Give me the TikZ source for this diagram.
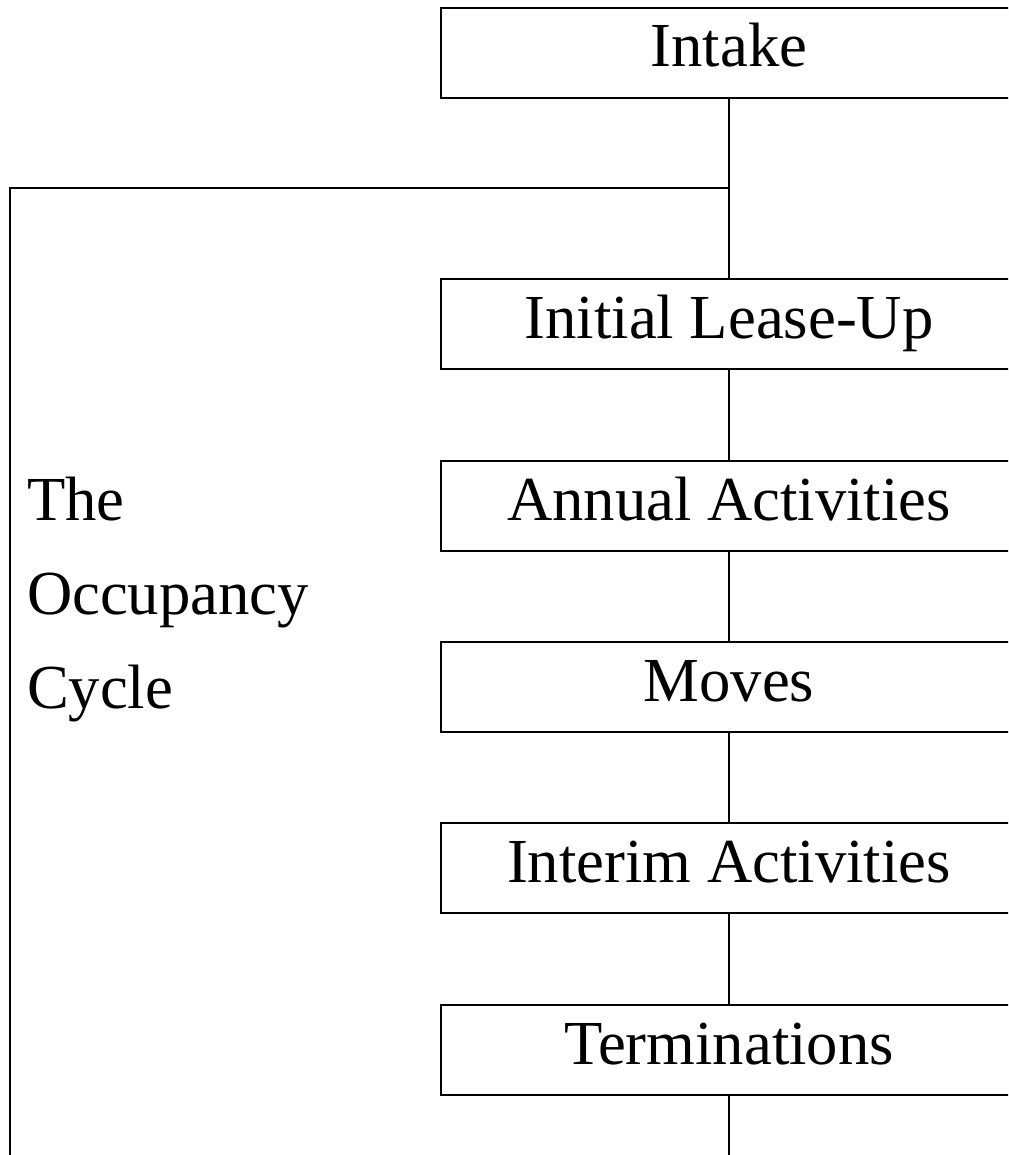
\documentclass[tikz,border=0pt]{standalone}
\usepackage{fontspec}
\setmainfont{Liberation Serif}
\tikzset{stagebox/.style={draw, line width=1.5pt, outer sep=0pt, inner sep=0pt,
    minimum width=432pt, text height=44.25pt, text depth=23.25pt,
    font=\fontsize{47}{56}\selectfont, anchor=north}}
\begin{document}
\begin{tikzpicture}[x=0.75pt, y=-0.75pt, line width=1.5pt]
            \useasboundingbox (0, 0) rectangle (1008, 1155);
            \clip (0, 0) rectangle (1008, 1155);

            \node[stagebox] (intake) at (729, 8) {Intake};
            \node[stagebox] (leaseup) at (729, 279) {Initial Lease-Up};
            \node[stagebox] (annual) at (729, 461) {Annual Activities};
            \node[stagebox] (moves) at (729, 642) {Moves};
            \node[stagebox] (interim) at (729, 823) {Interim Activities};
            \node[stagebox] (term) at (729, 1005) {Terminations};

            \coordinate (branch) at (729, 188);
            \coordinate (corner) at (10, 188);
            \coordinate (leftend) at (10, 1165);
            \coordinate (tail) at (729, 1165);

            \draw (intake) -- (leaseup);
            \draw (leaseup) -- (annual);
            \draw (annual) -- (moves);
            \draw (moves) -- (interim);
            \draw (interim) -- (term);
            \draw (term) -- (tail);
            \draw (branch) -- (corner) -- (leftend);

            % base anchor sits on the last line
            \node[anchor=base west, inner sep=0pt, align=left, font=\fontsize{47}{70.5}\selectfont] (cycle) at (26, 708) {The\\Occupancy\\Cycle};
        \end{tikzpicture}
\end{document}
